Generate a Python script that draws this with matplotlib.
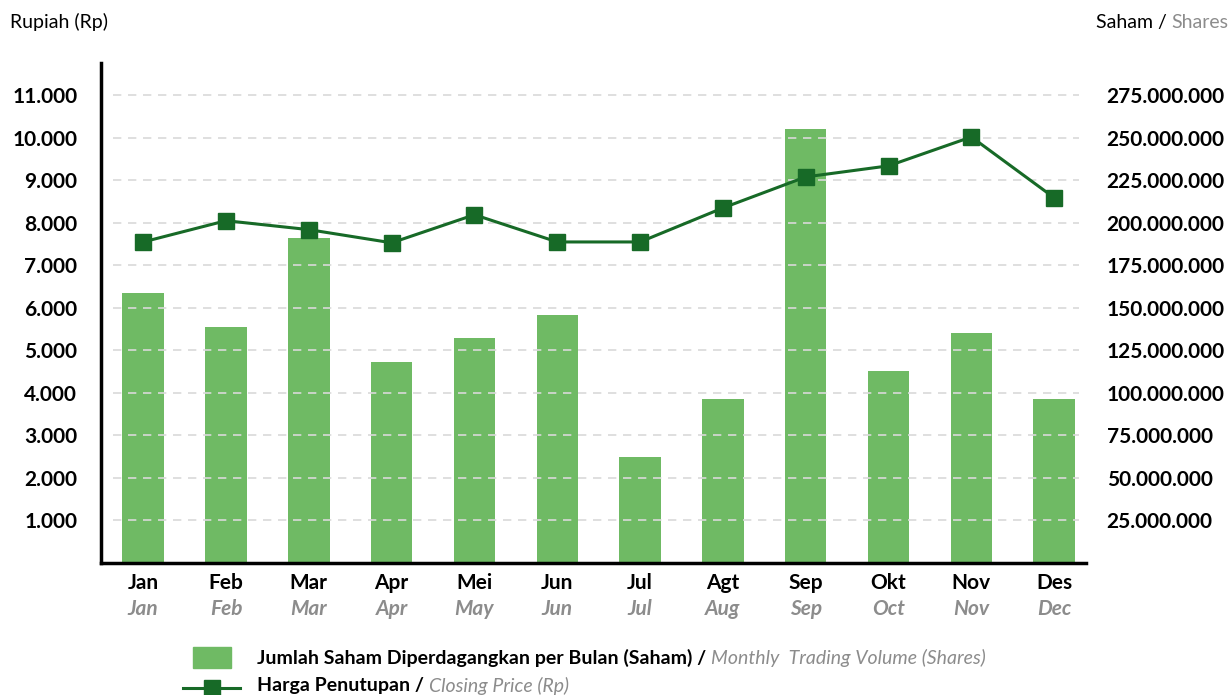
import numpy as np
import matplotlib.pyplot as plt
from matplotlib.transforms import blended_transform_factory

plt.rcParams['font.family'] = ['Lato', 'DejaVu Sans']

# data
months_id = ['Jan', 'Feb', 'Mar', 'Apr', 'Mei', 'Jun', 'Jul', 'Agt', 'Sep', 'Okt', 'Nov', 'Des']
months_en = ['Jan', 'Feb', 'Mar', 'Apr', 'May', 'Jun', 'Jul', 'Aug', 'Sep', 'Oct', 'Nov', 'Dec']
volume = [159_000_000, 138_500_000, 191_000_000, 118_000_000, 132_000_000, 146_000_000,
          62_500_000, 96_500_000, 255_000_000, 113_000_000, 135_000_000, 96_500_000]
close_price = [7550, 8050, 7840, 7530, 8190, 7550, 7550, 8350, 9080, 9340, 10020, 8590]
left_ticks = [1000, 2000, 3000, 4000, 5000, 6000, 7000, 8000, 9000, 10000, 11000]
right_ticks = [25_000_000 * i for i in range(1, 12)]

BAR = '#6fba64'
LINE = '#176a27'
GRAY = '#8c8c8c'
SCALE = 25000  # shares per rupiah on the shared grid


def dots(v):
    return f'{v:,}'.replace(',', '.')


fig = plt.figure(figsize=(12.31, 6.95), dpi=100)
ax = fig.add_axes([0.082, 0.19, 0.808, 0.7194])
ax2 = ax.twinx()

x = np.arange(len(months_id))
ylim_rp = 11760
ax.set_xlim(-0.51, 11.5)
ax.set_ylim(0, ylim_rp)
ax2.set_ylim(0, ylim_rp * SCALE)

# grid
for t in left_ticks:
    ax.axhline(t, xmin=0.012, xmax=0.983, color='#d9d9d9', lw=1.2, ls=(0, (5, 4)), zorder=0)

ax2.bar(x, volume, width=0.5, color=BAR, zorder=2)
ax.plot(x, close_price, color=LINE, lw=2.2, marker='s', ms=12, zorder=5)
ax.set_zorder(ax2.get_zorder() + 1)
ax.patch.set_visible(False)

ax.set_yticks(left_ticks)
ax.set_yticklabels([dots(t) for t in left_ticks], fontsize=15, fontweight='bold')
ax2.set_yticks(right_ticks)
ax2.set_yticklabels([dots(t) for t in right_ticks], fontsize=15, fontweight='bold')
ax.tick_params(axis='y', length=0, pad=17)
ax2.tick_params(axis='y', length=0, pad=8)
ax.set_xticks([])

for a in (ax, ax2):
    for s in a.spines.values():
        s.set_visible(False)
ax.spines['left'].set_visible(True)
ax.spines['bottom'].set_visible(True)
ax.spines['left'].set_linewidth(2.5)
ax.spines['bottom'].set_linewidth(2.5)
ax.spines['bottom'].set_bounds(-0.51, 11.38)

trans = blended_transform_factory(ax.transData, ax.transAxes)
for i in x:
    ax.text(i, -0.04, months_id[i], transform=trans, ha='center', va='center',
            fontsize=15, fontweight='bold', color='black')
    ax.text(i, -0.093, months_en[i], transform=trans, ha='center', va='center',
            fontsize=15, fontweight='bold', style='italic', color=GRAY)

fig.text(0.008, 0.968, 'Rupiah (Rp)', fontsize=14, va='center', ha='left')
r = fig.text(0.998, 0.968, 'Shares', fontsize=14, va='center', ha='right', color=GRAY)
fig.canvas.draw()
bb = r.get_window_extent(fig.canvas.get_renderer())
fig.text(bb.x0 / fig.bbox.width, 0.968, 'Saham / ', fontsize=14, va='center', ha='right')

# custom legend
fig.patches.append(plt.Rectangle((193 / 1231, 1 - 668 / 695), 38 / 1231, 21 / 695,
                                 transform=fig.transFigure, color=BAR))
fig.lines.append(plt.Line2D([183 / 1231, 240 / 1231], [1 - 688 / 695] * 2,
                            transform=fig.transFigure, color=LINE, lw=2.2))
fig.lines.append(plt.Line2D([211.5 / 1231], [1 - 688 / 695], transform=fig.transFigure,
                            color=LINE, marker='s', ms=12, lw=0))


def legend_row(y, first, second):
    t1 = fig.text(257 / 1231, y, first, fontsize=14, fontweight='bold', va='center')
    fig.canvas.draw()
    b = t1.get_window_extent(fig.canvas.get_renderer())
    fig.text(b.x1 / fig.bbox.width, y, second, fontsize=14, style='italic',
             color=GRAY, va='center')


legend_row(1 - 658 / 695, 'Jumlah Saham Diperdagangkan per Bulan (Saham) / ',
           'Monthly  Trading Volume (Shares)')
legend_row(1 - 686 / 695, 'Harga Penutupan / ', 'Closing Price (Rp)')

fig.savefig('out.png', dpi=100)
